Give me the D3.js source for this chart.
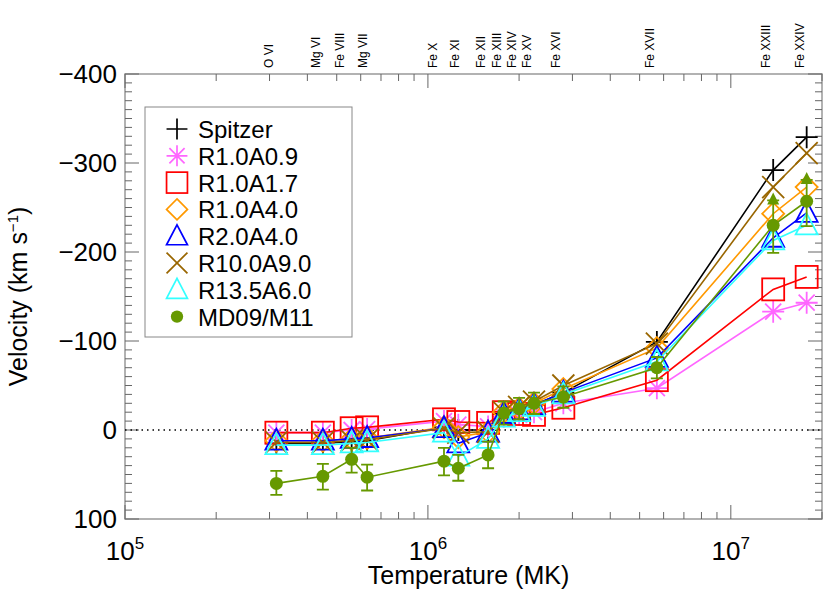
<!DOCTYPE html>
<html><head><meta charset="utf-8">
<script src="https://cdn.jsdelivr.net/npm/d3@7"></script>
<style>body{margin:0;background:#fff}text{font-family:"Liberation Sans",Arial,sans-serif}</style>
</head><body><div id="chart"></div>
<script>
const ions = ['O VI','Mg VI','Fe VIII','Mg VII','Fe X','Fe XI','Fe XII','Fe XIII','Fe XIV','Fe XV','Fe XVI','Fe XVII','Fe XXIII','Fe XXIV'];
const temps = [3.16e5,4.5e5,5.6e5,6.3e5,1.13e6,1.26e6,1.58e6,1.78e6,2.0e6,2.24e6,2.8e6,5.7e6,1.38e7,1.78e7];
const spitzer = [15,15,13,12,-3,0,0,-18,-22,-28,-42,-99,-292,-329];
const r10a09 = [3,3,0,-1,-10,-6,-4,-15,-17,-20,-30,-47,-133,-143];
const r10a17 = [3,3,-2,-3,-12,-9,-8,-20,-18,-17,-25,-56,-158,-172];
const r10a40 = [12,12,10,9,-3,8,2,-20,-24,-30,-46,-92,-243,-273];
const r20a40 = [12,12,10,9,-2,15,3,-18,-22,-28,-42,-81,-216,-244];
const r100a90 = [14,14,12,11,-2,3,2,-20,-26,-32,-50,-97,-273,-311];
const r135a60 = [17,17,15,14,3,30,10,-14,-20,-26,-40,-77,-213,-230];
const md09 = [60,52,33,53,35,43,28,-19,-24,-30,-37,-70,-230,-257];
const md09Lo = [46,38,20,39,20,28,13,-32,-36,-42,-49,-82,-258,-281];
const md09Hi = [73,67,48,68,51,57,43,-6,-12,-18,-25,-58,-199,-229];
const yTicks = [-400,-300,-200,-100,0,100];
const xTicks = [1e5,1e6,1e7];

const W = 830, H = 593, L = 125, R = 822, T = 74, B = 519;
const svg = d3.select('#chart').append('svg').attr('width', W).attr('height', H);
const x = d3.scaleLog().domain([1e5, 2e7]).range([L, R]);
const y = d3.scaleLinear().domain([-400, 100]).range([T, B]);

// box
svg.append('rect').attr('x', L).attr('y', T).attr('width', R - L).attr('height', B - T)
  .attr('fill', 'none').attr('stroke', '#999').attr('stroke-width', 1.5);

// y ticks
const yMinor = d3.range(-400, 101, 10);
[[L, 1], [R, -1]].forEach(([x0, dir]) => {
  svg.selectAll(null).data(yMinor).enter().append('line')
    .attr('x1', x0).attr('x2', d => x0 + dir * (d % 100 === 0 ? 14 : 7))
    .attr('y1', d => y(d)).attr('y2', d => y(d)).attr('stroke', '#666');
});
svg.selectAll(null).data(yTicks).enter().append('text')
  .attr('x', L - 8).attr('y', d => y(d) + 9).attr('text-anchor', 'end')
  .attr('font-size', 26).text(d => d < 0 ? '\u2212' + (-d) : d);

// x ticks
const xMinor = [];
for (let e = 5; e < 8; e++) for (let m = 1; m < 10; m++) { const v = m * Math.pow(10, e); if (v <= 2e7) xMinor.push(v); }
[[B, -1], [T, 1]].forEach(([y0, dir]) => {
  svg.selectAll(null).data(xMinor).enter().append('line')
    .attr('y1', y0).attr('y2', d => y0 + dir * (xTicks.includes(d) ? 14 : 7))
    .attr('x1', d => x(d)).attr('x2', d => x(d)).attr('stroke', '#666');
});
const xl = svg.selectAll(null).data(xTicks).enter().append('text')
  .attr('x', d => x(d)).attr('y', B + 41).attr('text-anchor', 'middle').attr('font-size', 26);
xl.append('tspan').text('10');
xl.append('tspan').attr('dy', -11).attr('font-size', 17).text(d => Math.round(Math.log10(d)));

svg.append('text').attr('x', (L + R) / 2 - 5).attr('y', 584).attr('text-anchor', 'middle')
  .attr('font-size', 25).text('Temperature (MK)');
const yl = svg.append('text').attr('transform', `translate(27,${(T + B) / 2}) rotate(-90)`)
  .attr('text-anchor', 'middle').attr('font-size', 25);
yl.append('tspan').text('Velocity (km s');
yl.append('tspan').attr('dy', -9).attr('font-size', 15).text('\u22121');
yl.append('tspan').attr('dy', 9).text(')');

// ion labels
svg.selectAll(null).data(ions).enter().append('text')
  .attr('transform', (d, i) => `translate(${x(temps[i]) - 3 + (i === 2 ? -5 : i === 3 ? 3 : i === 4 ? -4 : i === 5 ? 4 : 0)},68) rotate(-90)`)
  .attr('font-size', 12).text(d => d);

// zero line
svg.append('line').attr('x1', L).attr('x2', R).attr('y1', y(0)).attr('y2', y(0))
  .attr('stroke', '#000').attr('stroke-width', 1.5).attr('stroke-dasharray', '1.5,4');

const sym = {
  plus: (g, c) => g.append('path').attr('d', 'M-11,0H11M0,-11V11').attr('stroke', c).attr('stroke-width', 1.8).attr('fill', 'none'),
  star: (g, c) => g.append('path').attr('d', 'M-11,0H11M0,-11V11M-8,-8L8,8M-8,8L8,-8').attr('stroke', c).attr('stroke-width', 1.8).attr('fill', 'none'),
  square: (g, c) => g.append('rect').attr('x', -11).attr('y', -11).attr('width', 22).attr('height', 22).attr('stroke', c).attr('stroke-width', 1.8).attr('fill', 'none'),
  diamond: (g, c) => g.append('path').attr('d', 'M0,-11L11,0L0,11L-11,0Z').attr('stroke', c).attr('stroke-width', 1.8).attr('fill', 'none'),
  tri: (g, c) => g.append('path').attr('d', 'M0,-12L11,9H-11Z').attr('stroke', c).attr('stroke-width', 1.8).attr('fill', 'none'),
  cross: (g, c) => g.append('path').attr('d', 'M-11,-11L11,11M-11,11L11,-11').attr('stroke', c).attr('stroke-width', 1.8).attr('fill', 'none'),
  dot: (g, c) => g.append('circle').attr('r', 6.5).attr('fill', c)
};

const series = [
  {name: 'Spitzer', vals: spitzer, color: '#000', s: 'plus'},
  {name: 'R1.0A0.9', vals: r10a09, color: '#ff66ff', s: 'star'},
  {name: 'R1.0A1.7', vals: r10a17, color: '#ff0000', s: 'square'},
  {name: 'R1.0A4.0', vals: r10a40, color: '#ff9900', s: 'diamond'},
  {name: 'R2.0A4.0', vals: r20a40, color: '#0000ff', s: 'tri'},
  {name: 'R10.0A9.0', vals: r100a90, color: '#996600', s: 'cross'},
  {name: 'R13.5A6.0', vals: r135a60, color: '#33ffff', s: 'tri'},
  {name: 'MD09/M11', vals: md09, color: '#669900', s: 'dot'}
];
const line = d3.line().x((d, i) => x(temps[i])).y(d => y(d));

// legend
const lg = svg.append('g');
lg.append('rect').attr('x', 145).attr('y', 107).attr('width', 207).attr('height', 230)
  .attr('fill', '#fff').attr('stroke', '#888');
series.forEach((s, k) => {
  const g = lg.append('g').attr('transform', `translate(177,${129 + k * 26.8})`);
  sym[s.s](g.append('g').attr('transform', 'scale(0.95)'), s.color);
  g.append('text').attr('x', 21).attr('y', 9).attr('font-size', 24).text(s.name);
});

// series
series.forEach(s => {
  svg.append('path').datum(s.vals).attr('d', line).attr('fill', 'none')
    .attr('stroke', s.color).attr('stroke-width', 1.6);
  if (s.s === 'dot') {
    s.vals.forEach((v, i) => {
      const xx = x(temps[i]);
      svg.append('path').attr('d', `M${xx},${y(md09Lo[i])}V${y(md09Hi[i])}M${xx - 6},${y(md09Lo[i])}h12M${xx - 6},${y(md09Hi[i])}h12`)
        .attr('stroke', s.color).attr('stroke-width', 1.8).attr('fill', 'none');
      if (i >= 12) svg.append('path').attr('d', `M${xx},${y(md09Lo[i]) - 8}l6,12h-12Z`).attr('fill', s.color);
    });
  }
  s.vals.forEach((v, i) => {
    sym[s.s](svg.append('g').attr('transform', `translate(${x(temps[i])},${y(v)})`), s.color);
  });
});
</script></body></html>
